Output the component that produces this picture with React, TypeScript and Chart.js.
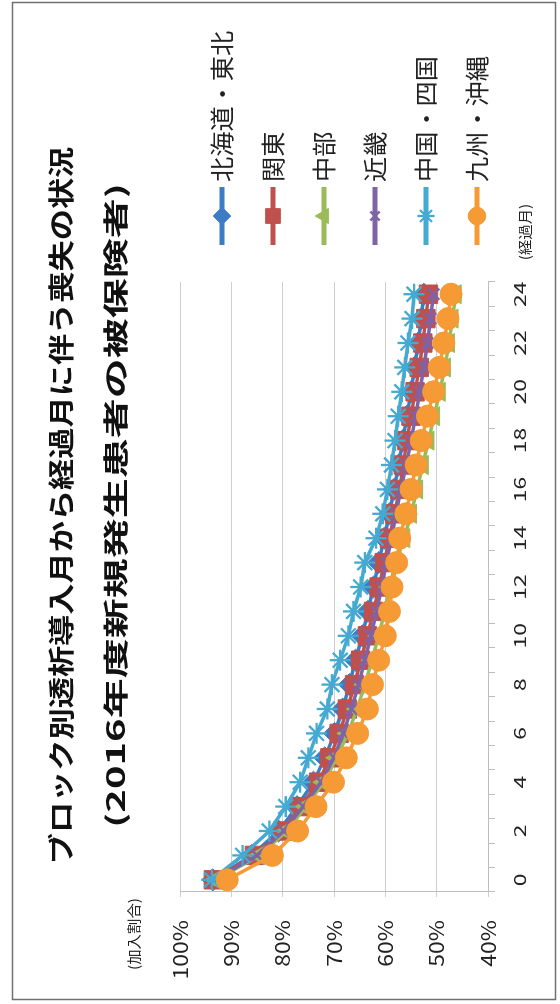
import React, { useEffect, useRef } from 'react';
import { Chart, registerables } from 'chart.js';
import { drawPoint } from 'chart.js/helpers';

Chart.register(...registerables);

// Months since the start of dialysis (category axis)
const MONTH_LABELS = [
  '0', '1', '2', '3', '4', '5', '6', '7', '8', '9', '10', '11', '12',
  '13', '14', '15', '16', '17', '18', '19', '20', '21', '22', '23', '24',
];

// Share of insured persons still enrolled (%), by regional block
const HOKKAIDO_TOHOKU = [93.6, 86.0, 80.8, 77.2, 74.0, 71.8, 69.9, 68.3, 67.0, 65.8, 64.5, 63.4, 62.3, 61.3, 60.2, 59.2, 58.3, 57.4, 56.6, 55.8, 55.0, 54.3, 53.6, 53.0, 52.5];
const KANTO = [93.5, 85.5, 80.0, 76.5, 73.0, 70.8, 69.0, 67.4, 66.0, 64.8, 63.5, 62.3, 61.2, 60.2, 59.2, 58.2, 57.2, 56.5, 55.8, 55.0, 54.2, 53.4, 52.7, 52.1, 51.6];
const CHUBU = [93.0, 84.5, 79.2, 75.5, 72.0, 69.5, 67.3, 65.5, 64.0, 62.6, 61.3, 60.1, 59.2, 58.0, 56.3, 55.0, 53.8, 52.7, 51.6, 50.5, 49.4, 48.4, 47.6, 46.9, 46.3];
const KINKI = [93.2, 85.0, 79.8, 76.0, 72.5, 70.0, 68.2, 66.6, 65.2, 64.0, 62.8, 61.7, 60.7, 59.8, 58.8, 57.9, 57.0, 55.9, 55.0, 54.1, 53.3, 52.5, 51.8, 51.2, 50.6];
const CHUGOKU_SHIKOKU = [93.8, 87.8, 82.6, 79.4, 76.6, 75.0, 73.4, 71.3, 70.4, 68.8, 67.2, 66.2, 64.8, 64.0, 61.8, 60.5, 59.6, 58.8, 58.1, 57.5, 56.8, 56.2, 55.6, 54.8, 54.4];
const KYUSHU_OKINAWA = [90.8, 82.0, 77.1, 73.5, 70.1, 67.6, 65.4, 63.5, 62.5, 61.3, 60.0, 59.2, 58.7, 57.8, 57.2, 56.0, 55.0, 54.0, 53.0, 51.8, 50.6, 49.5, 48.6, 47.8, 47.2];

const SERIES_NAMES = ['北海道・東北', '関東', '中部', '近畿', '中国・四国', '九州・沖縄'];
const SERIES_VALUES = [HOKKAIDO_TOHOKU, KANTO, CHUBU, KINKI, CHUGOKU_SHIKOKU, KYUSHU_OKINAWA];

const Y_MIN = 40;
const Y_MAX = 100;
const Y_STEP = 10;

const TITLE = 'ブロック別透析導入月から経過月に伴う喪失の状況';
const SUBTITLE = '(2016年度新規発生患者の被保険者)';
const Y_UNIT = '(加入割合)';
const X_UNIT = '(経過月)';

// Series styling
const COLORS = ['#3b7cc4', '#c0504d', '#9bbb59', '#7f63a6', '#45aad2', '#f59a34'];
const POINT_STYLES = ['rectRot', 'rect', 'triangle', 'crossRot', 'star', 'circle'];
const POINT_RADII = [11, 13, 11, 8, 10.5, 11];
const POINT_BORDERS = [1, 1, 1, 2.5, 2.3, 1];

const FONT_FAMILY = "'Noto Sans CJK JP', 'Noto Sans', sans-serif";

// Horizontal widening applied to text, keyed by font size in px
const TEXT_STRETCH: Record<string, number> = {
  '26': 1.2, // title
  '25': 1.6, // subtitle
  '24': 1.05, // legend
  '20': 1.15, // value ticks
  '17': 1.35, // month ticks
  '14': 1.1, // unit captions
};

function applyTextStretch(ctx: CanvasRenderingContext2D) {
  const proto = CanvasRenderingContext2D.prototype;
  const factor = () => {
    const m = /(\d+(?:\.\d+)?)px/.exec(ctx.font);
    return m ? TEXT_STRETCH[m[1]] ?? 1 : 1;
  };
  (ctx as any).fillText = function (text: string, x: number, y: number, maxWidth?: number) {
    const s = factor();
    if (s === 1) {
      if (maxWidth === undefined) proto.fillText.call(ctx, text, x, y);
      else proto.fillText.call(ctx, text, x, y, maxWidth);
      return;
    }
    ctx.save();
    ctx.translate(x, y);
    ctx.scale(s, 1);
    proto.fillText.call(ctx, text, 0, 0);
    ctx.restore();
  };
  (ctx as any).measureText = function (text: string) {
    const m = proto.measureText.call(ctx, text);
    const s = factor();
    if (s === 1) return m;
    return {
      width: m.width * s,
      actualBoundingBoxLeft: m.actualBoundingBoxLeft * s,
      actualBoundingBoxRight: m.actualBoundingBoxRight * s,
      actualBoundingBoxAscent: m.actualBoundingBoxAscent,
      actualBoundingBoxDescent: m.actualBoundingBoxDescent,
      fontBoundingBoxAscent: m.fontBoundingBoxAscent,
      fontBoundingBoxDescent: m.fontBoundingBoxDescent,
    } as TextMetrics;
  };
}

// Legend symbol: a short line segment with the series marker on it
function legendIcon(i: number): HTMLCanvasElement {
  const c = document.createElement('canvas');
  c.width = 75;
  c.height = 26;
  const g = c.getContext('2d')!;
  g.strokeStyle = COLORS[i];
  g.lineWidth = 5;
  g.beginPath();
  g.moveTo(17, 13);
  g.lineTo(75, 13);
  g.stroke();
  g.fillStyle = COLORS[i];
  g.strokeStyle = COLORS[i];
  g.lineWidth = POINT_BORDERS[i];
  drawPoint(
    g,
    { pointStyle: POINT_STYLES[i] as any, radius: POINT_RADII[i] * 0.8, rotation: 0, borderWidth: POINT_BORDERS[i] } as any,
    46,
    13,
  );
  return c;
}

const framePlugin = {
  id: 'frame',
  beforeDraw(chart: any) {
    const { ctx, width, height } = chart;
    ctx.save();
    ctx.fillStyle = '#ffffff';
    ctx.fillRect(0, 0, width, height);
    ctx.strokeStyle = '#707070';
    ctx.lineWidth = 1.5;
    ctx.strokeRect(4.5, 12.5, 997, 543);
    ctx.restore();
  },
  afterDraw(chart: any) {
    const { ctx, chartArea } = chart;
    ctx.save();
    ctx.fillStyle = '#222';
    ctx.font = `14px ${FONT_FAMILY}`;
    ctx.textAlign = 'center';
    ctx.textBaseline = 'middle';
    ctx.fillText(Y_UNIT, chartArea.left - 42, chartArea.top - 46);
    ctx.fillText(X_UNIT, chartArea.right + 50, chartArea.bottom + 37);
    ctx.restore();
  },
};

export default function App() {
  const canvasRef = useRef<HTMLCanvasElement | null>(null);

  useEffect(() => {
    const canvas = canvasRef.current;
    if (!canvas) return;
    const ctx = canvas.getContext('2d');
    if (!ctx) return;
    applyTextStretch(ctx);
    const icons = SERIES_VALUES.map((_, i) => legendIcon(i));

    const chart = new Chart(ctx, {
      type: 'line',
      data: {
        labels: MONTH_LABELS,
        datasets: SERIES_VALUES.map((data, i) => ({
          label: SERIES_NAMES[i],
          data,
          borderColor: COLORS[i],
          backgroundColor: COLORS[i],
          borderWidth: 3.5,
          tension: 0,
          pointStyle: POINT_STYLES[i] as any,
          pointRadius: POINT_RADII[i],
          pointBorderWidth: POINT_BORDERS[i],
          pointBackgroundColor: COLORS[i],
          pointBorderColor: COLORS[i],
          order: SERIES_VALUES.length - 1 - i,
        })),
      },
      options: {
        responsive: false,
        animation: false,
        devicePixelRatio: 1,
        events: [],
        layout: { padding: { left: 20, right: 27, top: 0, bottom: 44 } },
        plugins: {
          tooltip: { enabled: false },
          title: {
            display: true,
            text: TITLE,
            color: '#111',
            font: { size: 26, weight: 'bold', family: FONT_FAMILY },
            padding: { top: 46, bottom: 0 },
          },
          subtitle: {
            display: true,
            text: SUBTITLE,
            color: '#111',
            font: { size: 25, weight: 'bold', family: FONT_FAMILY },
            padding: { top: 23.2, bottom: 49.6 },
          },
          legend: {
            position: 'right',
            align: 'end',
            maxWidth: 255,
            labels: {
              usePointStyle: true,
              pointStyleWidth: 61,
              padding: 27,
              color: '#222',
              font: { size: 24, family: FONT_FAMILY },
              sort: (a: any, b: any) => a.datasetIndex - b.datasetIndex,
              generateLabels: (c: any) =>
                (Chart.defaults.plugins.legend.labels.generateLabels as any)(c).map((item: any) => ({
                  ...item,
                  pointStyle: icons[item.datasetIndex],
                })),
            },
          },
        },
        scales: {
          x: {
            type: 'category',
            offset: true,
            afterFit: (s: any) => {
              s.height = 28;
            },
            ticks: {
              autoSkip: false,
              maxRotation: 0,
              minRotation: 0,
              // labels sit below the axis band; mirror keeps them from being clipped to it
              mirror: true,
              padding: -42.2,
              color: '#222',
              font: { size: 17, family: FONT_FAMILY },
              callback: (_v: any, i: number) => (i % 2 === 0 ? MONTH_LABELS[i] : ''),
            },
            grid: { offset: true, drawOnChartArea: false, drawTicks: true, tickLength: 7, color: '#bdbdbd' },
            border: { display: true, color: '#bdbdbd' },
          },
          y: {
            min: Y_MIN,
            max: Y_MAX,
            afterFit: (s: any) => {
              s.width = 92;
            },
            ticks: {
              stepSize: Y_STEP,
              padding: 23,
              color: '#222',
              font: { size: 20, family: FONT_FAMILY },
              callback: (v: any) => `${v}%`,
            },
            grid: { color: '#cfcfcf', lineWidth: 1, drawTicks: true, tickLength: 5 },
            border: { display: true, color: '#bdbdbd' },
          },
        },
      } as any,
      plugins: [framePlugin],
    });

    return () => {
      chart.destroy();
      delete (ctx as any).fillText;
      delete (ctx as any).measureText;
    };
  }, []);

  return (
    <div style={{ position: 'fixed', left: 0, top: 0, width: 560, height: 1004, overflow: 'hidden', background: '#fff' }}>
      <div
        style={{
          position: 'absolute',
          left: 0,
          top: 0,
          width: 1004,
          height: 560,
          transformOrigin: '0 0',
          transform: 'translate(0px, 1004px) rotate(-90deg)',
        }}
      >
        <canvas ref={canvasRef} width={1004} height={560} style={{ display: 'block', width: 1004, height: 560 }} />
      </div>
    </div>
  );
}
